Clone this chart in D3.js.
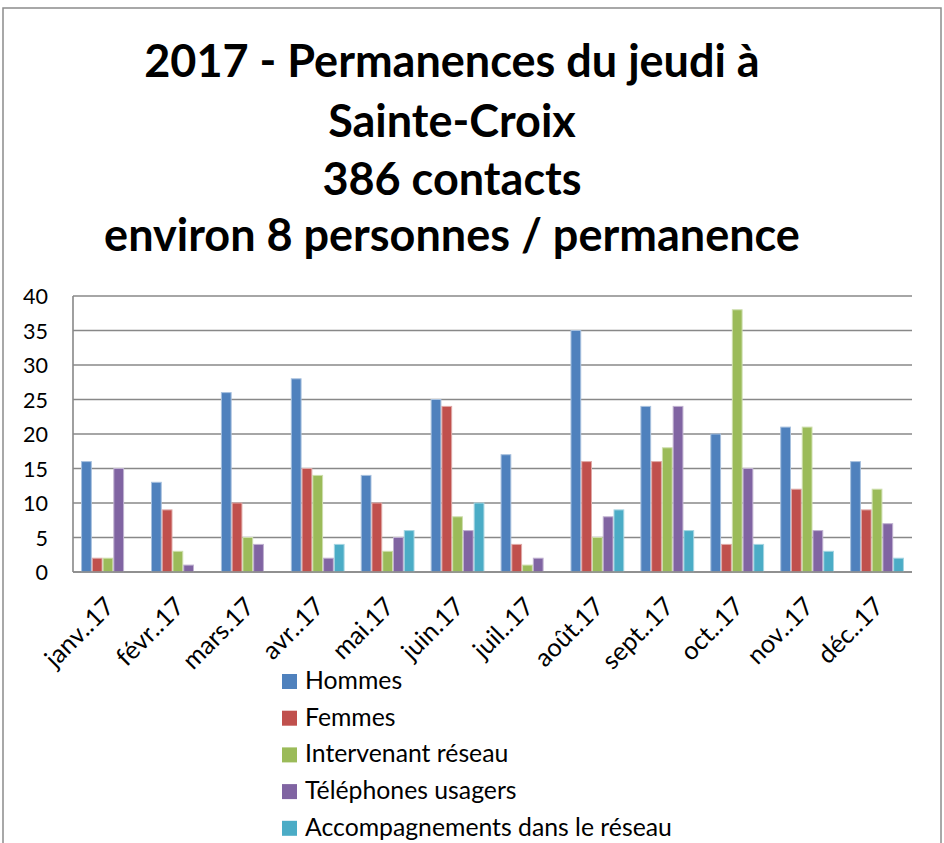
<!DOCTYPE html>
<html><head><meta charset="utf-8">
<script src="https://cdn.jsdelivr.net/npm/d3@7"></script>
<style>body{margin:0;background:#fff}svg{display:block}text{font-family:Lato,"Open Sans",sans-serif}</style>
</head><body>
<script>
const titleLines = ["2017 - Permanences du jeudi à", "Sainte-Croix", "386 contacts", "environ 8 personnes / permanence"];
const months = ["janv..17","févr..17","mars.17","avr..17","mai.17","juin.17","juil..17","août.17","sept..17","oct..17","nov..17","déc..17"];
const seriesNames = ["Hommes","Femmes","Intervenant réseau","Téléphones usagers","Accompagnements dans le réseau"];
const hommes   = [16,13,26,28,14,25,17,35,24,20,21,16];
const femmes   = [2,9,10,15,10,24,4,16,16,4,12,9];
const interv   = [2,3,5,14,3,8,1,5,18,38,21,12];
const telephon = [15,1,4,2,5,6,2,8,24,15,6,7];
const accomp   = [0,0,0,4,6,10,0,9,6,4,3,2];
const yTicks = [0,5,10,15,20,25,30,35,40];
const colors = ["#4F81BD","#C0504D","#9BBB59","#8064A2","#4BACC6"];
const strokes = ["#a7c0de","#dfa8a6","#cddeac","#bfb1d0","#a5d5e2"];

(function(){
const W = 944, H = 843;
const svg = d3.select("body").append("svg").attr("width", W).attr("height", H);

svg.append("rect").attr("x",3).attr("y",8).attr("width",938).attr("height",H+10)
  .attr("fill","none").attr("stroke","#8c8c8c").attr("stroke-width",1.5);

function fitSize(str, weight, target){
  const t = svg.append("text").attr("font-weight",weight).attr("font-size",40).text(str);
  const w = t.node().getComputedTextLength();
  t.remove();
  return 40 * target / w;
}

const titleY = [77, 137, 195, 251];
const fs = fitSize(titleLines[3], "bold", 696);
const tg = svg.append("g");
titleLines.forEach((l,i)=>{
  tg.append("text").attr("x",452).attr("y",titleY[i]).attr("text-anchor","middle")
    .attr("font-weight","bold").attr("font-size",fs).attr("fill","#000").text(l);
});

const pl = 73, pr = 912, pt = 296, pb = 572;
const y = d3.scaleLinear().domain([0,40]).range([pb, pt]);
const x0 = d3.scaleBand().domain(months).range([pl, pr]).paddingInner(0).paddingOuter(0);
const bw = x0.bandwidth() / 6.5;
const x1 = d3.scaleBand().domain(seriesNames).range([bw*0.75, bw*5.75]).padding(0);

svg.append("g").selectAll("line").data(yTicks).join("line")
  .attr("x1",pl).attr("x2",pr).attr("y1",d=>y(d)).attr("y2",d=>y(d))
  .attr("stroke","#888").attr("stroke-width",1.6);
svg.append("line").attr("x1",pl).attr("x2",pl).attr("y1",pt).attr("y2",pb)
  .attr("stroke","#888").attr("stroke-width",1.6);

const yfs = fitSize("40", "normal", 25);
const yAxis = d3.axisLeft(y).tickValues(yTicks).tickSize(0).tickPadding(0);
const ya = svg.append("g").attr("transform",`translate(${pl-25},0)`).call(yAxis);
ya.select(".domain").remove();
ya.selectAll("text").attr("font-size",yfs).attr("fill","#000").attr("font-family","Lato, sans-serif").attr("dy","0.36em");

const data = [hommes, femmes, interv, telephon, accomp];
const g = svg.append("g");
months.forEach((m,i)=>{
  seriesNames.forEach((s,j)=>{
    const v = data[j][i];
    if (v <= 0) return;
    g.append("rect")
      .attr("x", x0(m) + x1(s) + 0.5)
      .attr("y", y(v))
      .attr("width", x1.bandwidth() - 1)
      .attr("height", y(0) - y(v))
      .attr("fill", colors[j])
      .attr("stroke", strokes[j]).attr("stroke-width",1);
  });
});
svg.append("line").attr("x1",pl).attr("x2",pr).attr("y1",y(0)).attr("y2",y(0))
  .attr("stroke","#888").attr("stroke-width",1.6);

const xfs = fitSize("janv..17", "normal", 86);
const xa = svg.append("g").attr("transform",`translate(0,${pb})`)
  .call(d3.axisBottom(x0).tickSize(0).tickPadding(0));
xa.select(".domain").remove();
xa.selectAll("text")
  .attr("font-size",xfs).attr("fill","#000").attr("font-family","Lato, sans-serif")
  .attr("text-anchor","end")
  .attr("transform","translate(8,36) rotate(-45)")
  .attr("dy","0");

const lfs = fitSize(seriesNames[4], "normal", 367);
const lg = svg.append("g");
seriesNames.forEach((s,j)=>{
  const yy = 689 + j*36.7;
  lg.append("rect").attr("x",282).attr("y",yy-15).attr("width",15).attr("height",15).attr("fill",colors[j]);
  lg.append("text").attr("x",305).attr("y",yy).attr("font-size",lfs).attr("fill","#000").text(s);
});
})();
</script>
</body></html>
